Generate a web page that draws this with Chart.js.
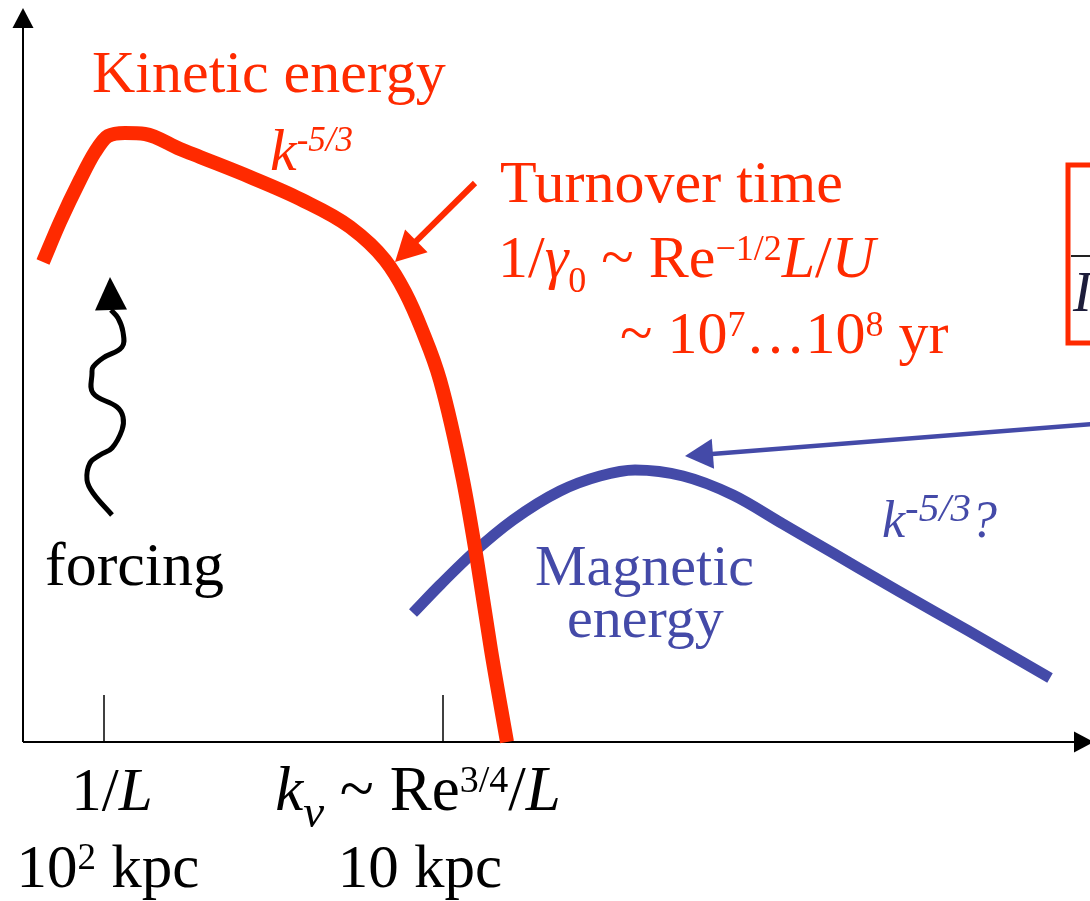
<!DOCTYPE html>
<html>
<head>
<meta charset="utf-8">
<script src="https://cdn.jsdelivr.net/npm/chart.js@4.4.1/dist/chart.umd.min.js"></script>
<style>
  html, body { margin: 0; padding: 0; background: #fff; }
  #wrap { width: 1090px; height: 901px; }
</style>
</head>
<body>
<div id="wrap"><canvas id="myChart" width="1090" height="901"></canvas></div>
<script>
// Schematic spectrum: x = wavenumber (origin on the vertical axis), y = spectral energy
var kineticK = [20, 37, 57, 72, 85, 102, 122, 157, 177, 227, 277, 327, 362, 382, 399, 417, 440, 454, 468, 484];
var kineticE = [480, 520, 562, 590, 606, 609, 608, 593, 585, 565, 543, 515, 482, 450, 412, 362, 262, 182, 92, 0];

var magneticK = [390, 417, 450, 490, 537, 577, 612, 660, 710, 760, 810, 877, 944, 1027];
var magneticE = [129, 157, 189, 222, 251, 266, 272, 266, 247, 218, 189, 150, 112, 64];

// wavy "forcing" arrow, tail to head
var forcingK = [89, 70, 64, 67, 77, 89, 99, 100, 94, 70, 69, 70, 80, 99, 100, 95, 88];
var forcingE = [227, 249, 262, 279, 287, 294, 312, 325, 335, 349, 369, 375, 384, 395, 410, 424, 432];

var tickK = [81, 420];
var tickLabels = ["1/*L*", "*k*_{*ν*} ~ Re^{3/4}/*L*"];
var scaleLabels = ["10^{2} kpc", "10 kpc"];

var RED = "#ff2a00";
var BLUE = "#444aa8";
var SERIF = '"Liberation Serif", "Times New Roman", serif';

function toPoints(xs, ys) {
  return xs.map(function (x, i) { return { x: x, y: ys[i] }; });
}

// tiny markup: *italic*, ^{sup}, _{sub}
function parseRuns(s) {
  var runs = [], buf = "", italic = false, shift = 0;
  function flush() { if (buf) runs.push({ t: buf, italic: italic, shift: shift }); buf = ""; }
  for (var i = 0; i < s.length; i++) {
    var c = s[i];
    if (c === "*") { flush(); italic = !italic; }
    else if ((c === "^" || c === "_") && s[i + 1] === "{") { flush(); shift = c === "^" ? 1 : -1; i++; }
    else if (c === "}" && shift !== 0) { flush(); shift = 0; }
    else buf += c;
  }
  flush();
  return runs;
}

function drawRich(ctx, s, x, y, size, color, o) {
  o = o || {};
  var runs = parseRuns(s);
  var sup = o.sup || 0.6, sub = o.sub || 0.6;
  function fontFor(r) {
    var sz = r.shift > 0 ? size * sup : r.shift < 0 ? size * sub : size;
    return (r.italic ? "italic " : "") + Math.round(sz) + "px " + SERIF;
  }
  var w = 0;
  runs.forEach(function (r) { ctx.font = fontFor(r); w += ctx.measureText(r.t).width; });
  var cx = o.center ? x - w / 2 : x;
  ctx.fillStyle = color;
  ctx.textAlign = "left";
  ctx.textBaseline = "alphabetic";
  runs.forEach(function (r) {
    ctx.font = fontFor(r);
    var dy = r.shift > 0 ? -size * (o.supRise || 0.29) : r.shift < 0 ? size * (o.subDrop || 0.25) : 0;
    ctx.fillText(r.t, cx, y + dy);
    cx += ctx.measureText(r.t).width;
  });
}

function arrowHead(ctx, bx, by, tx, ty, half, color) {
  var dx = tx - bx, dy = ty - by, len = Math.hypot(dx, dy);
  var nx = -dy / len, ny = dx / len;
  ctx.fillStyle = color;
  ctx.beginPath();
  ctx.moveTo(tx, ty);
  ctx.lineTo(bx + nx * half, by + ny * half);
  ctx.lineTo(bx - nx * half, by - ny * half);
  ctx.closePath();
  ctx.fill();
}

function arrow(ctx, x0, y0, x1, y1, width, headLen, half, color) {
  var dx = x1 - x0, dy = y1 - y0, len = Math.hypot(dx, dy);
  var ux = dx / len, uy = dy / len;
  var bx = x1 - ux * headLen, by = y1 - uy * headLen;
  ctx.strokeStyle = color;
  ctx.lineWidth = width;
  ctx.beginPath();
  ctx.moveTo(x0, y0);
  ctx.lineTo(bx + ux, by + uy);
  ctx.stroke();
  arrowHead(ctx, bx, by, x1, y1, half, color);
}

var sketch = {
  id: "sketch",
  beforeDatasetsDraw: function (chart) {
    var ctx = chart.ctx, xs = chart.scales.x, ys = chart.scales.y;
    var X = function (v) { return xs.getPixelForValue(v); };
    var Y = function (v) { return ys.getPixelForValue(v); };
    ctx.save();
    // axes with arrow heads
    ctx.strokeStyle = "#000";
    ctx.lineWidth = 2;
    ctx.beginPath();
    ctx.moveTo(X(0), Y(0)); ctx.lineTo(X(0), Y(734) + 19);
    ctx.moveTo(X(0), Y(0)); ctx.lineTo(X(1071) - 19, Y(0));
    ctx.stroke();
    arrowHead(ctx, X(0), Y(734) + 20, X(0), Y(734), 10.5, "#000");
    arrowHead(ctx, X(1071) - 20, Y(0), X(1071), Y(0), 10.5, "#000");
    // ticks
    ctx.lineWidth = 1.5;
    tickK.forEach(function (k) {
      ctx.beginPath();
      ctx.moveTo(X(k), Y(0));
      ctx.lineTo(X(k), Y(47));
      ctx.stroke();
    });
    ctx.restore();
  },
  afterDatasetsDraw: function (chart) {
    var ctx = chart.ctx, xs = chart.scales.x, ys = chart.scales.y;
    var X = function (v) { return xs.getPixelForValue(v); };
    var Y = function (v) { return ys.getPixelForValue(v); };
    ctx.save();

    // head of the wavy forcing arrow
    var n = forcingK.length - 1;
    arrowHead(ctx, X(forcingK[n]), Y(forcingE[n]), X(87), Y(465), 16, "#000");

    // pointer arrows
    arrow(ctx, X(452), Y(559), X(372), Y(480), 6, 30, 16, RED);
    arrow(ctx, X(1071), Y(318), X(662), Y(286), 4.5, 28, 15, BLUE);

    // red box cut off at the right edge
    ctx.strokeStyle = RED;
    ctx.lineWidth = 5;
    ctx.strokeRect(X(1045), Y(577), X(1090) - X(1045), Y(399) - Y(577));
    ctx.strokeStyle = "#222";
    ctx.lineWidth = 2;
    ctx.beginPath();
    ctx.moveTo(X(1048), Y(486)); ctx.lineTo(X(1068), Y(486));
    ctx.stroke();
    drawRich(ctx, "*I*", X(1050), Y(431), 56, "#1c1c3a");

    // annotations
    drawRich(ctx, "Kinetic energy", X(69), Y(650), 60, RED);
    drawRich(ctx, "*k^{-5/3}*", X(247), Y(572), 60, RED, { sup: 0.58, supRise: 0.31 });
    drawRich(ctx, "Turnover time", X(477), Y(540), 60, RED);
    drawRich(ctx, "1/*γ*_{0} ~ Re^{−1/2}*L*/*U*", X(475), Y(465), 60, RED, { sub: 0.6, subDrop: 0.25 });
    drawRich(ctx, "~ 10^{7}…10^{8} yr", X(597), Y(389), 60, RED);
    drawRich(ctx, "forcing", X(22), Y(157), 62, "#000");
    drawRich(ctx, "Magnetic", X(512), Y(157), 58, BLUE);
    drawRich(ctx, "energy", X(544), Y(105), 58, BLUE);
    drawRich(ctx, "*k^{-5/3}?*", X(859), Y(205), 52, BLUE, { sup: 0.78, supRise: 0.3 });

    // axis labels
    drawRich(ctx, tickLabels[0], X(89), Y(-68), 61, "#000", { center: true });
    drawRich(ctx, tickLabels[1], X(395), Y(-68), 63, "#000", { center: true, sub: 0.75, subDrop: 0.27 });
    drawRich(ctx, scaleLabels[0], X(85), Y(-145), 61, "#000", { center: true });
    drawRich(ctx, scaleLabels[1], X(397), Y(-145), 61, "#000", { center: true });
    ctx.restore();
  }
};

var ctx = document.getElementById("myChart").getContext("2d");
var chart = new Chart(ctx, {
  type: "line",
  data: {
    datasets: [
      {
        label: "Kinetic energy",
        data: toPoints(kineticK, kineticE),
        borderColor: RED,
        borderWidth: 14,
        borderJoinStyle: "round",
        cubicInterpolationMode: "monotone",
        pointRadius: 0,
        clip: false
      },
      {
        label: "Magnetic energy",
        data: toPoints(magneticK, magneticE),
        borderColor: BLUE,
        borderWidth: 11,
        borderJoinStyle: "round",
        cubicInterpolationMode: "monotone",
        pointRadius: 0,
        clip: false
      },
      {
        label: "forcing",
        data: toPoints(forcingK, forcingE),
        borderColor: "#000",
        borderWidth: 5,
        borderJoinStyle: "round",
        tension: 0.4,
        pointRadius: 0,
        clip: false
      }
    ]
  },
  options: {
    responsive: false,
    animation: false,
    devicePixelRatio: 1,
    layout: { padding: 0 },
    scales: {
      x: { type: "linear", min: -23, max: 1067, display: false },
      y: { type: "linear", min: -159, max: 742, display: false }
    },
    plugins: {
      legend: { display: false },
      tooltip: { enabled: false }
    }
  },
  plugins: [sketch]
});
</script>
</body>
</html>
